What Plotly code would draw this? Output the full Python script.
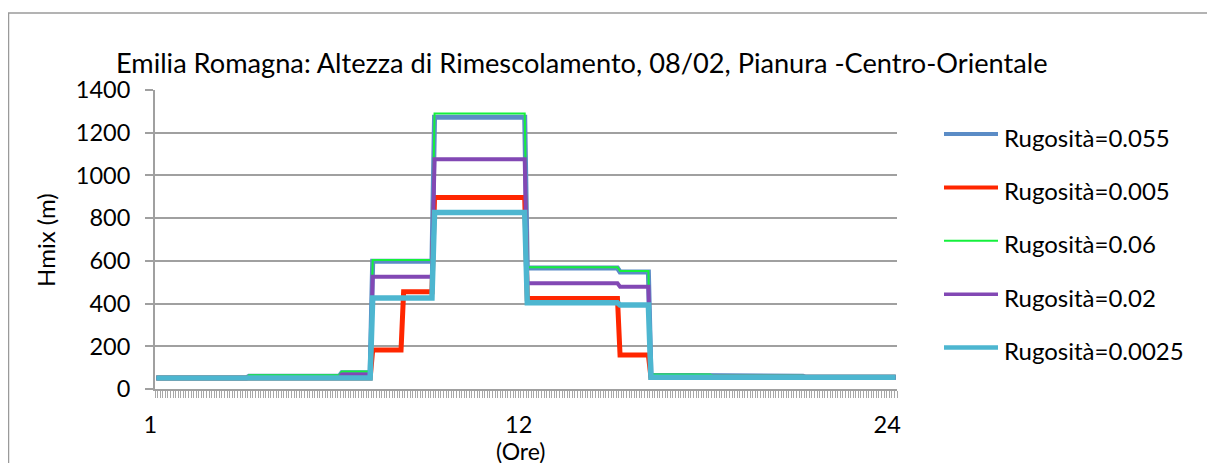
import numpy as np
import plotly.graph_objects as go

# hourly mixing height (m), sampled every 5 minutes in the original sheet
hours = list(range(1, 25))
steps_per_hour = 12

rug_0055 = [52, 52, 52, 60, 60, 60, 76, 598, 598, 1272, 1272, 1272,
            566, 566, 566, 548, 64, 64, 60, 60, 60, 55, 55, 55]
rug_0005 = [52, 52, 52, 52, 52, 52, 52, 183, 455, 897, 897, 897,
            424, 424, 424, 159, 55, 55, 55, 55, 55, 55, 55, 55]
rug_006 = [52, 52, 52, 64, 64, 64, 82, 604, 604, 1290, 1290, 1290,
           570, 570, 570, 552, 68, 68, 62, 62, 62, 56, 56, 56]
rug_002 = [52, 52, 52, 52, 52, 52, 68, 526, 526, 1076, 1076, 1076,
           495, 495, 495, 479, 55, 55, 55, 55, 55, 55, 55, 55]
rug_00025 = [52, 52, 52, 52, 52, 52, 52, 426, 426, 827, 827, 827,
             404, 404, 404, 393, 55, 55, 55, 55, 55, 55, 55, 55]

series_names = ["Rugosità=0.055", "Rugosità=0.005", "Rugosità=0.06",
                "Rugosità=0.02", "Rugosità=0.0025"]
series_values = [rug_0055, rug_0005, rug_006, rug_002, rug_00025]
colors = ["#5B8CC6", "#FF2600", "#14F03C", "#8248B4", "#4DB6D0"]
widths = [5, 5, 2, 4, 5.5]
legend_widths = [4, 4, 2, 3.5, 4.5]

tick_text = ["1", "12", "24"]
tick_pos = [0, 143, 286]

# page body has an 8px margin, so the figure is drawn 8px in from the corner
OFF = 8
W, H = 1215 - OFF, 463 - OFF
L, T = 155 - OFF, 90 - OFF
PW, PH = 742, 299
R, B = W - L - PW, H - T - PH
FONT = "Lato"
GRAY = "#A0A0A0"


def px_x(px):
    return (px - OFF - L) / PW


def px_y(py):
    return (T + PH - (py - OFF)) / PH


n = len(hours) * steps_per_hour
x = np.arange(n)

fig = go.Figure()
for name, vals, col, w in zip(series_names, series_values, colors, widths):
    fig.add_trace(go.Scatter(
        x=x, y=np.repeat(vals, steps_per_hour), name=name, mode="lines",
        line=dict(color=col, width=w), showlegend=False,
    ))

shapes = [dict(type="rect", xref="paper", yref="paper",
               x0=px_x(8.5), x1=px_x(1212.5), y0=px_y(13), y1=px_y(600),
               line=dict(color="#9A9A9A", width=1.5), layer="below")]
annotations = []
for i, (name, col, lw) in enumerate(zip(series_names, colors, legend_widths)):
    ly = 134 + i * 53.4
    shapes.append(dict(type="line", xref="paper", yref="paper",
                       x0=px_x(944), x1=px_x(998), y0=px_y(ly), y1=px_y(ly),
                       line=dict(color=col, width=lw)))
    annotations.append(dict(text=name, xref="paper", yref="paper",
                            x=px_x(1002), y=px_y(ly + 3), xanchor="left",
                            yanchor="middle", showarrow=False,
                            font=dict(size=24, color="black", family=FONT)))

annotations.append(dict(text="Emilia Romagna: Altezza di Rimescolamento, 08/02, Pianura -Centro-Orientale",
                        xref="paper", yref="paper", x=px_x(582), y=px_y(62),
                        xanchor="center", yanchor="middle", showarrow=False,
                        font=dict(size=27.2, color="black", family=FONT)))
annotations.append(dict(text="Hmix (m)", xref="paper", yref="paper",
                        x=px_x(45), y=px_y(240), textangle=-90,
                        xanchor="center", yanchor="middle", showarrow=False,
                        font=dict(size=24, color="black", family=FONT)))
annotations.append(dict(text="(Ore)", xref="paper", yref="paper",
                        x=px_x(521), y=px_y(451),
                        xanchor="center", yanchor="middle", showarrow=False,
                        font=dict(size=23, color="black", family=FONT)))

fig.update_layout(
    width=W, height=H,
    margin=dict(l=L, r=R, t=T, b=B),
    paper_bgcolor="white", plot_bgcolor="white",
    font=dict(family=FONT, size=23.5, color="black"),
    shapes=shapes, annotations=annotations,
    showlegend=False,
)
fig.update_xaxes(
    range=[-0.5, n - 0.5], tickmode="array", tickvals=tick_pos, ticktext=tick_text,
    ticks="", showgrid=False, zeroline=False,
    showline=True, linecolor=GRAY, linewidth=2,
    ticklabelstandoff=14, ticklabelshift=-6,
    minor=dict(ticks="outside", tick0=-0.5, dtick=1, ticklen=7,
               tickcolor="#A8A8A8", tickwidth=1, showgrid=False),
)
fig.update_yaxes(
    range=[0, 1400], dtick=200, ticks="outside", ticklen=8,
    tickcolor=GRAY, tickwidth=1.5,
    showgrid=True, gridcolor=GRAY, gridwidth=1.5, zeroline=False,
    showline=True, linecolor=GRAY, linewidth=2,
    ticklabelstandoff=10,
)

fig.write_html("out.html")
